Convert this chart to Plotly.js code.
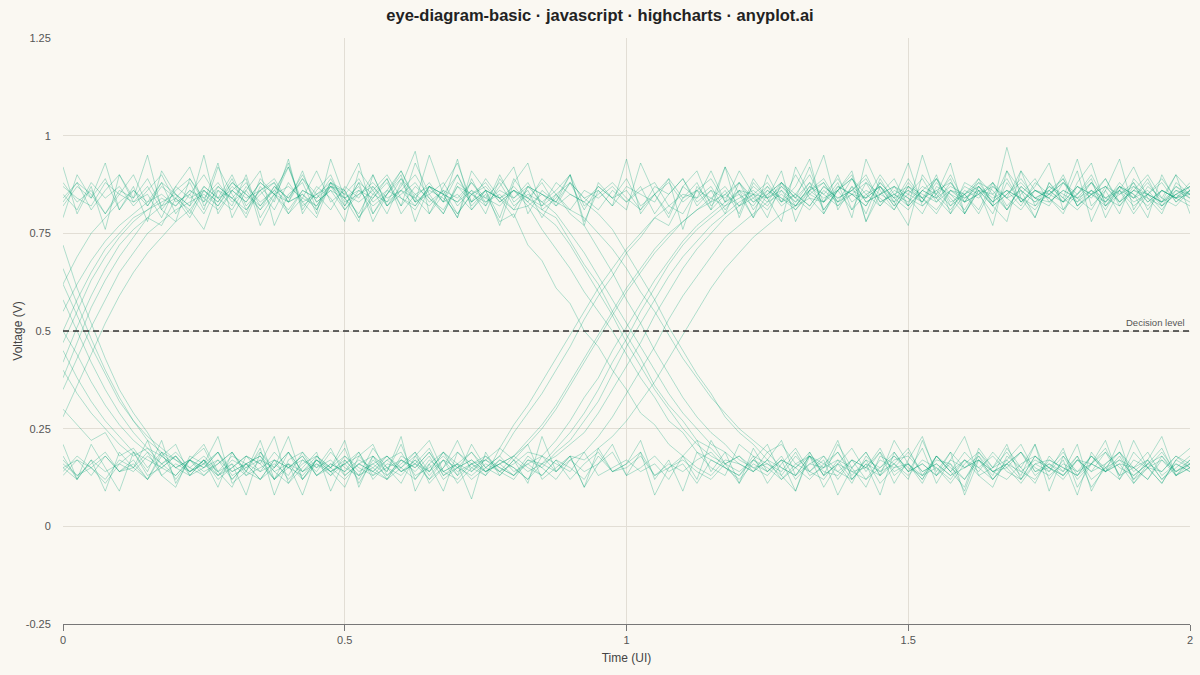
<!DOCTYPE html>
<html>
<head>
<meta charset="utf-8">
<script src="https://cdn.plot.ly/plotly-3.0.1.min.js"></script>
<style>
  html, body { margin: 0; padding: 0; background: #faf8f2; }
  #graph { width: 1200px; height: 675px; }
</style>
</head>
<body>
<div id="graph"></div>
<script>
// sample times in unit intervals (UI)
var timeUI = [0,.025,.05,.075,.1,.125,.15,.175,.2,.225,.25,.275,.3,.325,.35,.375,.4,.425,.45,.475,
  .5,.525,.55,.575,.6,.625,.65,.675,.7,.725,.75,.775,.8,.825,.85,.875,.9,.925,.95,.975,
  1,1.025,1.05,1.075,1.1,1.125,1.15,1.175,1.2,1.225,1.25,1.275,1.3,1.325,1.35,1.375,1.4,1.425,1.45,1.475,
  1.5,1.525,1.55,1.575,1.6,1.625,1.65,1.675,1.7,1.725,1.75,1.775,1.8,1.825,1.85,1.875,1.9,1.925,1.95,1.975,2];

// captured waveforms (V), named by bit pattern prev/bit1/bit2
var hhh1 = [.88,.83,.86,.80,.85,.90,.82,.87,.84,.79, .86,.83,.89,.81,.85,.88,.80,.84,.91,.83, .86,.79,.85,.89,.82,.87,.84,.80,.88,.85, .82,.90,.83,.86,.79,.85,.88,.81,.87,.84, .89,.82,.85,.80,.87,.84,.91,.83,.86,.79, .85,.88,.82,.86,.83,.90,.81,.85,.87,.82, .88,.84,.80,.86,.83,.89,.85,.81,.87,.84, .82,.88,.85,.90,.83,.86,.80,.85,.88,.83, .86];
var hhh2 = [.82,.87,.84,.89,.81,.86,.83,.88,.80,.85, .90,.84,.81,.87,.83,.86,.92,.82,.85,.88, .81,.86,.84,.89,.80,.85,.87,.83,.90,.82, .86,.84,.79,.87,.85,.82,.88,.84,.81,.86, .83,.87,.80,.85,.89,.82,.86,.84,.88,.81, .86,.83,.90,.84,.80,.87,.85,.82,.88,.84, .81,.86,.89,.83,.85,.80,.87,.84,.91,.82, .85,.88,.83,.86,.81,.87,.84,.89,.82,.85, .83];
var hhh3 = [.92,.80,.87,.76,.90,.84,.95,.81,.78,.89, .83,.93,.79,.86,.91,.77,.85,.88,.80,.94, .84,.78,.90,.82,.87,.96,.80,.85,.79,.91, .86,.77,.88,.93,.81,.84,.90,.78,.86,.82, .94,.80,.85,.89,.76,.87,.83,.92,.79,.88, .84,.91,.78,.86,.95,.81,.87,.80,.89,.83, .77,.90,.85,.93,.80,.86,.82,.97,.84,.79, .88,.83,.91,.78,.86,.94,.81,.87,.84,.90, .80];
var hhl1 = [.85,.81,.88,.84,.87,.82,.86,.90,.83,.85, .80,.87,.84,.88,.82,.86,.83,.89,.85,.81, .87,.84,.90,.82,.85,.88,.83,.86,.80,.85, .88,.83,.86,.84,.81,.79,.73,.67,.62,.55, .49,.43,.36,.31,.27,.22,.20,.16,.18,.14, .17,.12,.15,.19,.13,.16,.11,.18,.14,.16, .20,.13,.15,.12,.17,.14,.19,.15,.11,.16, .14,.18,.12,.16,.20,.13,.15,.17,.12,.15, .18];
var hhl2 = [.83,.88,.85,.80,.86,.84,.89,.82,.87,.84, .86,.82,.88,.85,.81,.87,.84,.90,.83,.86, .84,.80,.87,.83,.89,.85,.82,.86,.84,.88, .83,.85,.81,.82,.76,.71,.66,.60,.55,.50, .44,.38,.33,.27,.24,.19,.17,.15,.13,.17, .14,.18,.12,.16,.15,.19,.13,.17,.11,.15, .16,.12,.18,.14,.17,.13,.15,.19,.14,.12, .17,.15,.13,.18,.14,.16,.11,.15,.19,.14, .16];
var hhl3 = [.87,.84,.82,.88,.85,.83,.87,.81,.86,.89, .84,.81,.86,.83,.88,.85,.80,.86,.84,.87, .82,.88,.85,.83,.86,.90,.84,.81,.87,.85, .83,.86,.84,.88,.82,.85,.80,.77,.71,.65, .58,.52,.45,.39,.33,.28,.24,.21,.17,.15, .16,.13,.18,.14,.12,.17,.15,.19,.13,.16, .13,.17,.15,.11,.16,.19,.14,.16,.12,.18, .15,.12,.17,.14,.19,.15,.13,.16,.18,.13, .15];
var hhl4 = [.79,.90,.84,.93,.81,.87,.78,.91,.85,.82, .95,.80,.86,.89,.77,.84,.92,.83,.79,.88, .86,.93,.80,.85,.90,.78,.87,.83,.94,.81, .85,.78,.80,.72,.68,.61,.57,.50,.46,.40, .35,.29,.26,.21,.18,.22,.14,.19,.11,.17, .21,.13,.09,.18,.15,.22,.12,.16,.08,.19, .14,.20,.11,.17,.23,.13,.10,.18,.15,.21, .12,.17,.08,.19,.14,.22,.11,.16,.20,.13, .17];
var hhl5 = [.84,.88,.81,.86,.90,.83,.85,.79,.87,.92, .82,.86,.84,.80,.89,.85,.83,.91,.81,.87, .86,.79,.84,.88,.82,.93,.85,.80,.87,.83, .89,.84,.86,.82,.85,.83,.81,.79,.75,.71, .66,.60,.55,.49,.43,.38,.33,.29,.25,.22, .19,.21,.16,.14,.18,.12,.17,.15,.20,.13, .16,.11,.18,.14,.19,.15,.12,.17,.21,.14, .16,.13,.18,.10,.15,.19,.14,.17,.12,.16, .14];
var hlh1 = [.58,.50,.42,.35,.29,.24,.20,.18,.15,.17, .13,.16,.19,.14,.12,.17,.15,.18,.13,.16, .14,.19,.12,.16,.15,.18,.13,.17,.11,.15, .17,.14,.16,.19,.18,.22,.27,.33,.38,.45, .51,.57,.63,.68,.73,.77,.80,.83,.85,.82, .87,.84,.81,.86,.89,.83,.85,.88,.82,.86, .84,.80,.87,.85,.83,.88,.86,.81,.85,.89, .83,.86,.84,.88,.82,.85,.87,.83,.86,.84, .88];
var hlh2 = [.66,.57,.48,.40,.33,.27,.22,.19,.17,.14, .16,.19,.13,.15,.17,.12,.16,.14,.18,.15, .12,.16,.14,.17,.19,.13,.15,.18,.14,.16, .13,.17,.15,.12,.16,.18,.21,.24,.29,.35, .41,.47,.54,.60,.66,.71,.75,.79,.82,.84, .81,.86,.83,.88,.85,.82,.87,.84,.90,.85, .83,.87,.85,.81,.86,.84,.88,.82,.86,.83, .87,.84,.81,.85,.89,.83,.86,.84,.82,.87, .85];
var hlh3 = [.50,.44,.37,.31,.26,.22,.19,.16,.18,.14, .17,.13,.15,.18,.16,.12,.19,.14,.16,.13, .18,.15,.13,.17,.14,.16,.20,.13,.15,.17, .14,.16,.18,.22,.26,.31,.37,.43,.49,.55, .61,.66,.71,.75,.78,.81,.84,.82,.86,.83, .85,.88,.84,.81,.86,.83,.89,.85,.82,.87, .85,.83,.88,.84,.80,.86,.85,.89,.83,.86, .84,.81,.87,.85,.83,.88,.84,.86,.82,.85, .87];
var hlh4 = [.72,.61,.52,.43,.35,.29,.24,.18,.21,.13, .17,.10,.19,.14,.22,.12,.16,.08,.18,.15, .20,.11,.17,.14,.23,.09,.16,.19,.13,.21, .15,.18,.24,.29,.34,.40,.46,.53,.59,.64, .70,.74,.79,.77,.84,.88,.81,.92,.85,.79, .90,.83,.87,.94,.80,.86,.91,.78,.85,.89, .82,.95,.84,.80,.88,.86,.77,.91,.83,.87, .93,.81,.85,.89,.79,.86,.92,.84,.80,.88, .85];
var hlh5 = [.40,.34,.29,.25,.21,.18,.20,.16,.13,.17, .15,.19,.12,.16,.18,.14,.11,.17,.15,.20, .13,.16,.18,.12,.15,.19,.14,.17,.13,.16, .18,.14,.12,.17,.15,.19,.22,.27,.32,.39, .46,.52,.58,.64,.69,.73,.77,.80,.83,.85, .82,.87,.84,.88,.81,.86,.89,.83,.85,.87, .82,.86,.84,.90,.83,.85,.88,.81,.87,.84, .86,.89,.82,.85,.87,.83,.86,.90,.84,.82, .86];
var hll1 = [.62,.54,.46,.39,.32,.27,.23,.20,.17,.15, .18,.14,.16,.13,.17,.15,.19,.12,.16,.14, .17,.13,.15,.18,.14,.16,.12,.17,.15,.19, .14,.16,.13,.18,.15,.12,.17,.14,.16,.19, .13,.15,.18,.14,.16,.11,.17,.15,.13,.18, .16,.14,.19,.13,.15,.17,.12,.16,.14,.18, .15,.13,.17,.16,.12,.18,.14,.15,.19,.13, .16,.14,.18,.12,.15,.17,.13,.16,.14,.18, .15];
var hll2 = [.45,.38,.32,.27,.23,.19,.17,.15,.18,.13, .15,.17,.12,.16,.14,.19,.15,.13,.17,.14, .16,.12,.18,.15,.13,.17,.14,.19,.16,.12, .15,.18,.14,.16,.13,.17,.15,.12,.18,.14, .16,.19,.13,.15,.17,.14,.12,.16,.18,.15, .13,.17,.15,.12,.16,.19,.14,.15,.13,.17, .18,.14,.16,.13,.15,.17,.12,.16,.19,.14, .15,.13,.17,.16,.14,.18,.12,.15,.17,.13, .16];
var hll3 = [.30,.26,.22,.24,.18,.20,.15,.19,.12,.17, .21,.14,.10,.18,.16,.23,.11,.15,.19,.09, .17,.13,.20,.15,.11,.18,.22,.14,.16,.07, .19,.13,.17,.21,.12,.15,.18,.10,.20,.14, .16,.22,.12,.17,.09,.19,.15,.13,.21,.18, .11,.16,.20,.14,.17,.08,.15,.19,.13,.22, .16,.12,.18,.14,.10,.20,.15,.17,.13,.21, .09,.18,.14,.16,.22,.12,.19,.15,.11,.17, .20];
var lhh1 = [.42,.51,.59,.66,.72,.76,.79,.82,.84,.81, .86,.83,.88,.85,.82,.87,.84,.89,.83,.86, .81,.85,.88,.84,.86,.82,.87,.85,.90,.83, .86,.84,.81,.87,.85,.83,.88,.84,.86,.82, .87,.85,.83,.89,.84,.86,.81,.85,.88,.83, .86,.84,.82,.87,.85,.89,.83,.86,.84,.81, .87,.85,.83,.88,.84,.86,.82,.85,.89,.84, .83,.86,.84,.81,.87,.85,.88,.83,.86,.84, .82];
var lhh2 = [.50,.58,.65,.71,.75,.79,.81,.84,.82,.86, .83,.87,.84,.81,.86,.88,.83,.85,.82,.87, .85,.89,.83,.86,.84,.81,.87,.85,.83,.88, .84,.82,.86,.83,.89,.85,.81,.86,.84,.87, .83,.86,.88,.82,.85,.84,.87,.81,.86,.85, .88,.83,.85,.82,.87,.84,.86,.90,.83,.85, .82,.86,.84,.87,.85,.81,.88,.84,.86,.83, .85,.89,.82,.86,.84,.87,.83,.85,.81,.86, .84];
var lhh3 = [.35,.43,.51,.58,.65,.70,.75,.78,.81,.83, .85,.82,.87,.84,.86,.81,.88,.83,.85,.87, .84,.86,.82,.85,.89,.83,.86,.84,.80,.85, .87,.83,.86,.84,.82,.88,.85,.83,.87,.84, .86,.81,.85,.88,.83,.86,.84,.87,.82,.85, .84,.87,.83,.86,.88,.82,.85,.84,.87,.83, .86,.84,.89,.82,.85,.87,.83,.86,.84,.81, .86,.83,.85,.88,.84,.82,.87,.85,.83,.86, .85];
var lhh4 = [.28,.36,.44,.52,.59,.65,.70,.74,.78,.81, .76,.86,.82,.90,.79,.85,.93,.81,.87,.84, .78,.91,.86,.80,.88,.83,.95,.85,.79,.89, .82,.87,.92,.80,.86,.83,.90,.77,.88,.84, .81,.93,.85,.79,.87,.91,.82,.86,.80,.89, .84,.78,.92,.85,.83,.88,.79,.94,.86,.81, .87,.83,.90,.80,.85,.89,.82,.78,.91,.86, .84,.80,.88,.93,.82,.87,.85,.79,.90,.83, .86];
var lhh5 = [.62,.69,.75,.79,.83,.86,.82,.88,.85,.80, .87,.84,.90,.82,.86,.89,.83,.85,.81,.88, .84,.87,.80,.86,.91,.83,.85,.88,.82,.86, .80,.89,.84,.87,.83,.86,.90,.82,.85,.88, .84,.81,.87,.85,.89,.83,.86,.80,.88,.84, .87,.82,.85,.90,.83,.86,.81,.88,.85,.83, .89,.84,.86,.82,.87,.85,.80,.88,.83,.86, .84,.90,.82,.85,.87,.83,.88,.81,.86,.84, .87];
var lhl1 = [.47,.55,.63,.69,.74,.78,.81,.83,.85,.82, .87,.84,.86,.83,.88,.85,.81,.86,.84,.89, .83,.85,.87,.82,.86,.84,.88,.83,.85,.81, .86,.84,.87,.83,.80,.77,.72,.66,.60,.54, .47,.41,.35,.30,.25,.21,.18,.16,.14,.17, .15,.12,.16,.18,.14,.13,.17,.15,.19,.14, .16,.13,.18,.15,.12,.17,.14,.16,.19,.15, .13,.16,.14,.18,.15,.12,.17,.15,.14,.18, .16];
var lhl2 = [.55,.62,.68,.73,.77,.80,.83,.85,.82,.86, .84,.88,.83,.86,.81,.85,.87,.84,.82,.88, .85,.83,.86,.90,.84,.82,.87,.85,.83,.86, .84,.88,.82,.85,.83,.80,.75,.70,.64,.58, .52,.46,.40,.34,.29,.25,.21,.19,.16,.14, .17,.15,.13,.18,.16,.14,.12,.17,.15,.19, .14,.16,.13,.17,.15,.18,.12,.16,.14,.17, .15,.19,.13,.16,.14,.17,.15,.12,.18,.14, .17];
var lhl3 = [.38,.47,.56,.63,.69,.74,.79,.77,.84,.88, .81,.92,.85,.79,.87,.83,.94,.80,.86,.90, .82,.88,.78,.85,.91,.84,.80,.87,.93,.83, .86,.79,.89,.84,.88,.82,.85,.83,.80,.76, .70,.64,.58,.51,.45,.39,.34,.28,.24,.21, .17,.22,.13,.18,.10,.16,.20,.14,.19,.11, .17,.23,.13,.16,.09,.19,.15,.21,.12,.18, .14,.20,.10,.16,.19,.13,.22,.15,.11,.17, .15];
var llh1 = [.14,.18,.15,.12,.17,.15,.19,.13,.16,.14, .17,.12,.15,.18,.14,.16,.13,.19,.15,.17, .13,.16,.14,.18,.15,.12,.17,.14,.16,.19, .15,.13,.17,.14,.16,.20,.24,.29,.35,.42, .48,.55,.61,.67,.72,.76,.79,.82,.84,.86, .83,.88,.85,.82,.87,.84,.86,.89,.83,.85, .87,.84,.81,.86,.85,.88,.83,.86,.84,.82, .87,.85,.83,.88,.84,.86,.82,.85,.89,.84, .86];
var llh2 = [.17,.13,.16,.19,.14,.15,.12,.18,.15,.17, .14,.16,.19,.13,.15,.17,.12,.16,.18,.14, .16,.19,.13,.15,.17,.14,.18,.12,.15,.17, .14,.16,.18,.21,.25,.30,.36,.42,.48,.54, .60,.65,.70,.74,.78,.81,.83,.85,.82,.87, .84,.86,.81,.85,.88,.83,.86,.84,.87,.82, .85,.89,.83,.86,.84,.87,.82,.85,.88,.84, .86,.83,.87,.85,.82,.86,.84,.88,.83,.85, .87];
var llh3 = [.15,.12,.17,.14,.16,.19,.13,.15,.18,.14, .16,.13,.17,.15,.19,.14,.16,.12,.17,.15, .18,.14,.16,.13,.17,.15,.19,.14,.12,.16, .17,.15,.13,.16,.18,.14,.17,.19,.23,.28, .34,.40,.46,.53,.59,.64,.69,.74,.77,.80, .83,.85,.82,.87,.84,.86,.89,.83,.85,.87, .84,.82,.86,.88,.83,.85,.87,.84,.81,.86, .85,.88,.84,.86,.83,.87,.85,.82,.86,.84, .85];
var llh4 = [.18,.12,.21,.15,.09,.19,.14,.22,.11,.17, .20,.13,.16,.08,.19,.15,.23,.12,.17,.14, .10,.18,.21,.13,.16,.19,.11,.15,.22,.14, .17,.20,.26,.31,.37,.43,.49,.55,.61,.66, .71,.75,.79,.82,.80,.86,.89,.83,.91,.85, .79,.88,.84,.92,.81,.86,.90,.78,.87,.84, .93,.82,.85,.89,.80,.87,.83,.91,.86,.79, .88,.84,.94,.82,.86,.80,.89,.85,.83,.90, .86];
var llh5 = [.15,.17,.13,.18,.14,.16,.12,.19,.15,.13, .17,.14,.18,.16,.12,.15,.19,.14,.17,.13, .16,.18,.14,.12,.17,.15,.19,.13,.16,.14, .18,.15,.13,.17,.16,.14,.18,.17,.20,.23, .27,.32,.37,.43,.49,.55,.61,.66,.70,.74, .77,.80,.82,.84,.83,.87,.85,.82,.88,.84, .86,.83,.89,.85,.81,.87,.84,.86,.82,.88, .85,.83,.87,.84,.89,.82,.86,.85,.83,.87, .84];
var lll1 = [.16,.13,.15,.18,.14,.17,.12,.16,.19,.15, .13,.17,.14,.16,.18,.12,.15,.17,.14,.19, .15,.13,.16,.18,.14,.17,.12,.15,.19,.16, .14,.17,.15,.12,.18,.16,.14,.19,.13,.15, .17,.14,.16,.12,.18,.15,.13,.17,.16,.14, .19,.15,.13,.16,.18,.14,.17,.12,.15,.18, .14,.16,.13,.19,.15,.17,.14,.12,.16,.18, .15,.13,.17,.14,.16,.19,.15,.12,.17,.14, .16];
var lll2 = [.13,.17,.15,.11,.16,.14,.18,.15,.13,.17, .15,.19,.14,.16,.12,.17,.15,.18,.13,.16, .14,.17,.15,.12,.18,.16,.14,.19,.15,.13, .16,.14,.18,.15,.13,.17,.12,.16,.19,.14, .15,.18,.13,.16,.14,.17,.19,.15,.12,.16, .14,.17,.15,.18,.13,.16,.14,.12,.17,.15, .19,.14,.16,.13,.17,.15,.18,.14,.12,.16, .17,.15,.13,.18,.14,.16,.15,.19,.13,.16, .14];
var lll3 = [.21,.12,.17,.09,.19,.15,.22,.13,.10,.18, .16,.23,.11,.14,.20,.08,.17,.19,.13,.15, .22,.10,.18,.14,.21,.12,.16,.09,.19,.15, .13,.20,.17,.11,.23,.14,.18,.10,.16,.21, .13,.19,.08,.15,.18,.12,.22,.16,.11,.20, .14,.17,.09,.19,.13,.21,.15,.10,.18,.16, .12,.22,.14,.19,.08,.17,.13,.20,.15,.11, .18,.14,.21,.09,.16,.19,.12,.17,.23,.13, .15];

var waveforms = [hhh1, hhh2, hhh3, hhl1, hhl2, hhl3, hhl4, hhl5,
  hlh1, hlh2, hlh3, hlh4, hlh5, hll1, hll2, hll3,
  lhh1, lhh2, lhh3, lhh4, lhh5, lhl1, lhl2, lhl3,
  llh1, llh2, llh3, llh4, llh5, lll1, lll2, lll3];

var decisionLevel = 0.5;
var yTickVals = [-0.25, 0, 0.25, 0.5, 0.75, 1, 1.25];
var yTickText = ['-0.25', '0', '0.25', '0.5', '0.75', '1', '1.25'];
var xTickVals = [0, 0.5, 1, 1.5, 2];
var xTickText = ['0', '0.5', '1', '1.5', '2'];

var traceColor = 'rgba(0, 158, 115, 0.3)';
var bgColor = '#faf8f2';
var gridColor = '#e2ded5';
var fontFam = '"Liberation Sans", Arial, sans-serif';

var data = waveforms.map(function (w) {
  return {
    x: timeUI,
    y: w,
    type: 'scatter',
    mode: 'lines',
    line: { color: traceColor, width: 1 },
    hoverinfo: 'skip'
  };
});

// decision threshold
data.push({
  x: [0, 2],
  y: [decisionLevel, decisionLevel],
  type: 'scatter',
  mode: 'lines',
  line: { color: '#333333', width: 1.3, dash: '6px,4px' },
  hoverinfo: 'skip'
});

var layout = {
  width: 1200,
  height: 675,
  margin: { l: 63, r: 10, t: 38, b: 51 },
  paper_bgcolor: bgColor,
  plot_bgcolor: bgColor,
  showlegend: false,
  hovermode: false,
  font: { family: fontFam, size: 11, color: '#555555' },
  title: {
    text: '<b>eye-diagram-basic · javascript · highcharts · anyplot.ai</b>',
    font: { family: fontFam, size: 16.5, color: '#222222' },
    x: 0.5,
    xanchor: 'center',
    y: 0.978,
    yanchor: 'middle'
  },
  xaxis: {
    range: [0, 2],
    tickvals: xTickVals,
    ticktext: xTickText,
    showgrid: true,
    gridcolor: gridColor,
    gridwidth: 1,
    zeroline: false,
    showline: true,
    linecolor: '#777777',
    linewidth: 1,
    ticks: 'outside',
    ticklen: 6,
    tickcolor: '#777777',
    tickfont: { size: 11, color: '#555555' },
    title: { text: 'Time (UI)', font: { size: 12, color: '#444444' }, standoff: 8 }
  },
  yaxis: {
    range: [-0.25, 1.25],
    tickvals: yTickVals,
    ticktext: yTickText,
    showgrid: true,
    gridcolor: gridColor,
    gridwidth: 1,
    zeroline: false,
    showline: false,
    ticks: 'outside',
    ticklen: 9,
    tickcolor: 'rgba(0,0,0,0)',
    tickfont: { size: 11, color: '#555555' },
    title: { text: 'Voltage (V)', font: { size: 12, color: '#444444' }, standoff: 0 }
  },
  annotations: [{
    x: 2,
    y: decisionLevel,
    xref: 'x',
    yref: 'y',
    text: 'Decision level',
    showarrow: false,
    xanchor: 'right',
    yanchor: 'bottom',
    xshift: -3,
    yshift: 1,
    font: { size: 9.5, color: '#555555' }
  }]
};

var config = { displayModeBar: false, staticPlot: true };

Plotly.newPlot(document.getElementById('graph'), data, layout, config);
</script>
</body>
</html>
